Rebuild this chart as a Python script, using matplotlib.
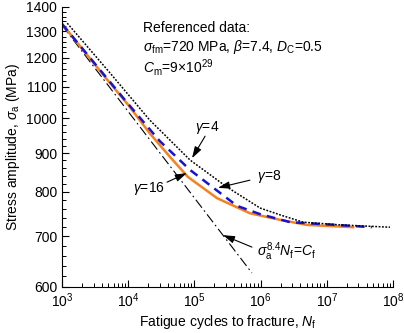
import numpy as np
import matplotlib
matplotlib.use('Agg')
import matplotlib.pyplot as plt
from matplotlib.ticker import FixedLocator, FixedFormatter, NullFormatter, LogLocator

plt.rcParams['font.family'] = ['Liberation Sans', 'DejaVu Sans']
plt.rcParams['mathtext.fontset'] = 'custom'
plt.rcParams['mathtext.rm'] = 'Liberation Sans'
plt.rcParams['mathtext.it'] = 'Liberation Sans:italic'
plt.rcParams['font.size'] = 10

# curves (cycles, stress amplitude in MPa)
n_g4 = [1.2e3, 5.3e3, 2.1e4, 8.6e4, 3.1e5, 9.8e5, 2.0e6, 4.4e6, 1.6e7, 9.0e7]
s_g4 = [1333, 1147, 995, 881, 812, 762, 746, 730, 724, 719]

n_g8 = [1e3, 1e4, 3.0e4, 8.6e4, 4.4e5, 9.8e5, 2.8e6, 1.4e7, 4.8e7]
s_g8 = [1330, 1044, 933, 855, 767, 748, 730, 724, 719]

n_g16 = [1e3, 4.6e3, 1e4, 2.1e4, 4.3e4, 8e4, 2.2e5, 6.9e5, 2e6, 5e6, 2.5e7]
s_g16 = [1330, 1129, 1041, 956, 889, 837, 785, 750, 735, 724, 719]

n_basq = [1e3, 7.4e5]
s_basq = [1325, 626]

y_major = [600, 700, 800, 900, 1000, 1100, 1200, 1300, 1400]
y_minor = [v for v in range(600, 1401, 20) if v % 100 != 0]

fig = plt.figure(figsize=(4.04, 3.33), dpi=100)
ax = fig.add_axes([62/404, 46/333, 331/404, 280/333])

ax.plot(n_basq, s_basq, color='black', lw=0.8, ls=(0, (9, 3, 1.5, 3)))
ax.plot(n_g16, s_g16, color='#F5821F', lw=1.8)
ax.plot(n_g8, s_g8, color='#1414D2', lw=1.8, ls=(0, (3.5, 2.5)))
ax.plot(n_g4, s_g4, color='black', lw=1.1, ls=(0, (1.2, 1.0)))

ax.set_xscale('log')
ax.set_yscale('log')
ax.set_xlim(1e3, 1e8)
ax.set_ylim(600, 1400)
ax.xaxis.set_major_locator(LogLocator(base=10, numticks=10))
ax.xaxis.set_minor_locator(LogLocator(base=10, subs=np.arange(2, 10), numticks=20))
ax.xaxis.set_minor_formatter(NullFormatter())
ax.yaxis.set_major_locator(FixedLocator(y_major))
ax.yaxis.set_major_formatter(FixedFormatter([str(v) for v in y_major]))
ax.yaxis.set_minor_locator(FixedLocator(y_minor))
ax.yaxis.set_minor_formatter(NullFormatter())
ax.tick_params(which='major', direction='in', length=5, width=0.8, labelsize=10)
ax.tick_params(which='minor', direction='in', length=3, width=0.7)
ax.spines['top'].set_visible(False)
ax.spines['right'].set_visible(False)

ax.set_xlabel(r'Fatigue cycles to fracture, $N_{\rm f}$', fontsize=10, labelpad=2)
ax.set_ylabel(r'Stress amplitude, $\sigma_{\rm a}$ (MPa)', fontsize=10, labelpad=3)

arr = dict(arrowstyle='-|>,head_length=0.7,head_width=0.22', color='black', lw=0.8,
           shrinkA=0, shrinkB=0)
ax.annotate('', xy=(9.2e4, 886), xytext=(1.45e5, 947), arrowprops=arr)
ax.text(1.55e5, 971, r'$\gamma$=4', ha='center', va='center')
ax.annotate('', xy=(2.27e5, 810), xytext=(6.9e5, 829), arrowprops=arr)
ax.text(6.9e5, 837, r'  $\gamma$=8', ha='left', va='center')
ax.annotate('', xy=(7.7e4, 847), xytext=(3.86e4, 824), arrowprops=arr)
ax.text(3.6e4, 809, r'$\gamma$=16', ha='right', va='center')
ax.annotate('', xy=(2.7e5, 702), xytext=(7.4e5, 677), arrowprops=arr)
ax.text(8.8e5, 667, r'$\sigma_{\rm a}^{8.4}N_{\rm f}$=$C_{\rm f}$', ha='left', va='center')

fig.text(143/404, 1 - 28/333, 'Referenced data:', va='center', fontsize=10)
fig.text(143/404, 1 - 47/333, r'$\sigma_{\rm fm}$=720 MPa, $\beta$=7.4, $D_{\rm C}$=0.5',
         va='center', fontsize=10)
fig.text(143/404, 1 - 67/333, r'$C_{\rm m}$=9$\times$10$^{29}$', va='center', fontsize=10)

fig.savefig('out.png', dpi=100)
